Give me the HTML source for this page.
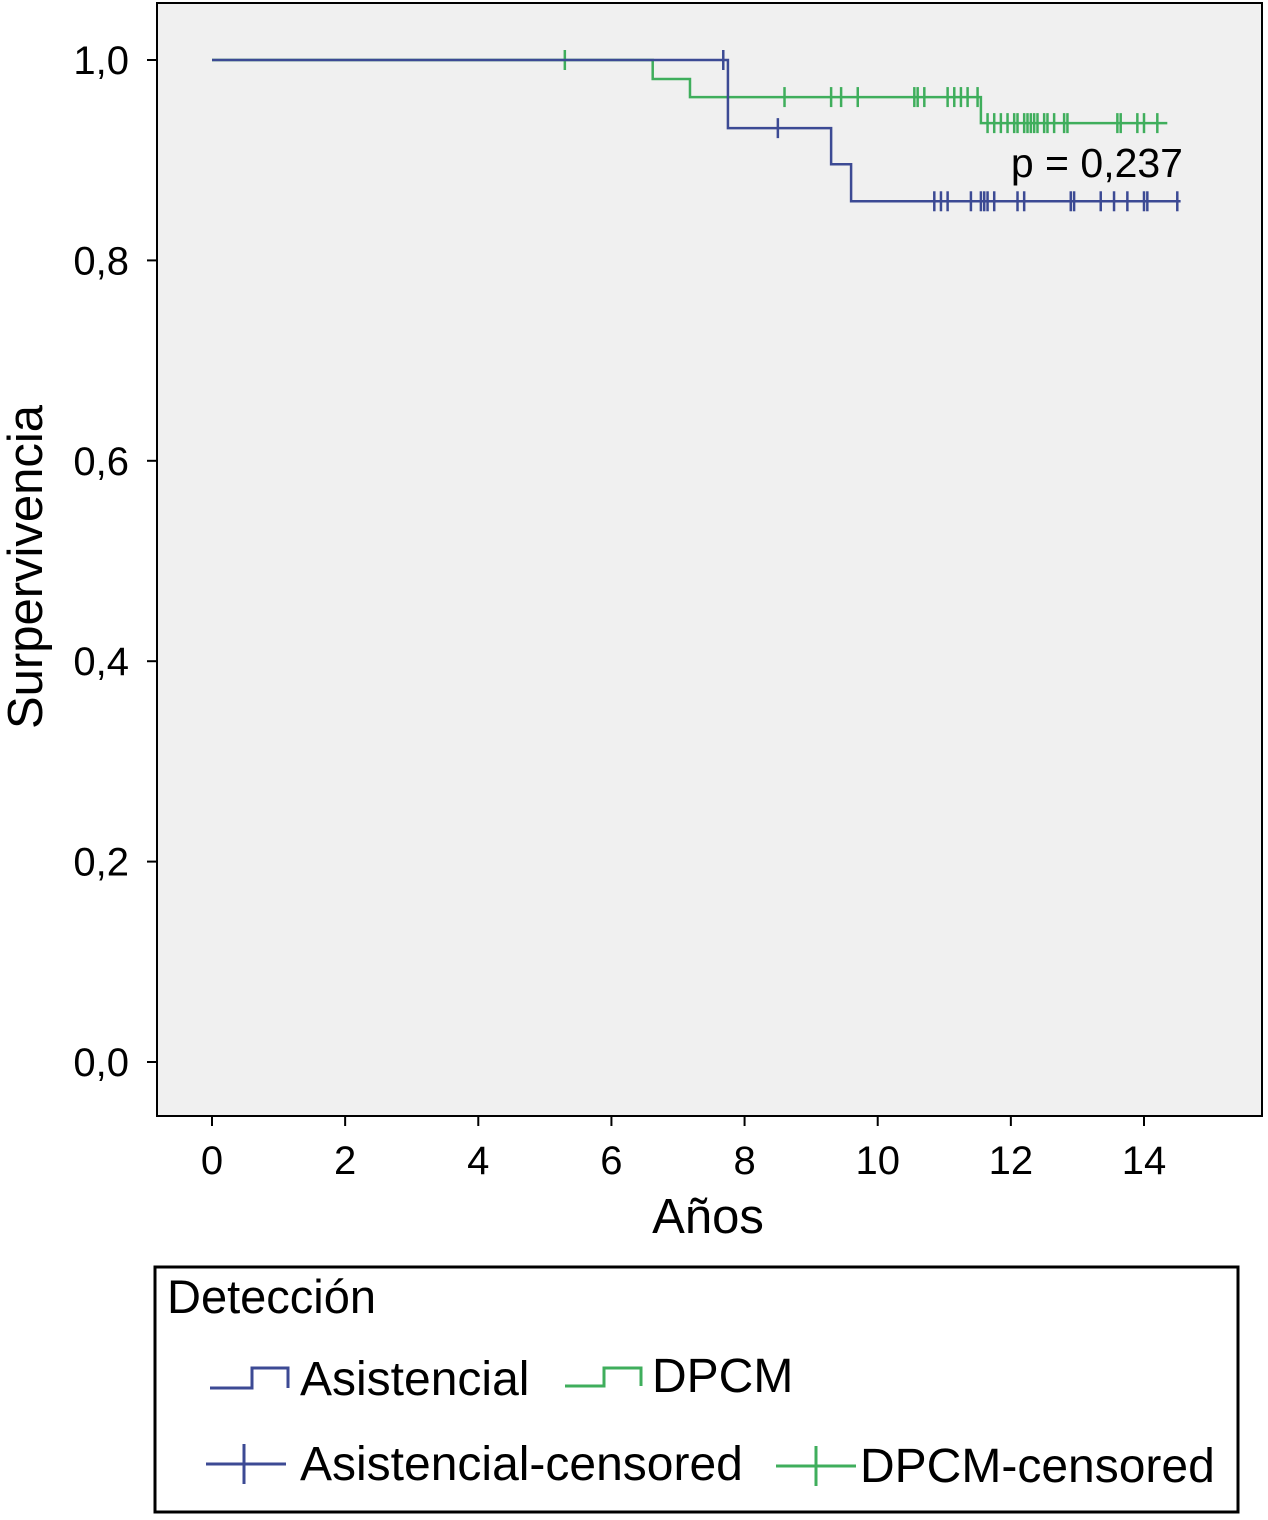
<!DOCTYPE html>
<html><head><meta charset="utf-8"><style>
body{margin:0;background:#fff;}
svg text{font-family:"Liberation Sans",Arial,sans-serif;fill:#000;}
</style></head><body>
<svg id="chart" width="1268" height="1515" xmlns="http://www.w3.org/2000/svg">
<rect x="157" y="3" width="1105" height="1113" fill="#f0f0f0" stroke="#000" stroke-width="2"/>
<g id="axes"></g>
<g id="series"></g>
<text x="1183" y="177" font-size="41" text-anchor="end">p = 0,237</text>
<text x="708" y="1233" font-size="49" text-anchor="middle">Años</text>
<text transform="translate(42,567) rotate(-90)" font-size="49" text-anchor="middle">Surpervivencia</text>
<g>
<rect x="155" y="1267" width="1083" height="245" fill="#fff" stroke="#000" stroke-width="3"/>
<text x="167" y="1313" font-size="47">Detección</text>
<path d="M210 1388 H252 V1368 H288 V1388" fill="none" stroke="#3c4a94" stroke-width="3"/>
<text x="300" y="1395" font-size="48">Asistencial</text>
<path d="M565 1386 H604 V1368 H641 V1386" fill="none" stroke="#3fae5c" stroke-width="3"/>
<text x="652" y="1392" font-size="48">DPCM</text>
<path d="M206 1464 H286 M244 1444 V1484" stroke="#3c4a94" stroke-width="3"/>
<text x="300" y="1480" font-size="48">Asistencial-censored</text>
<path d="M776 1466 H856 M816 1446 V1486" stroke="#3fae5c" stroke-width="3"/>
<text x="860" y="1482" font-size="48">DPCM-censored</text>
</g>
</svg>
<script>
const xTicks=[0,2,4,6,8,10,12,14];
const yTicks=[0,0.2,0.4,0.6,0.8,1.0];
const yTickLabels=["0,0","0,2","0,4","0,6","0,8","1,0"];
const blueTimes=[0,7.75,9.3,9.6,14.55];
const blueSurv=[1.0,0.932,0.896,0.859,0.859];
const greenTimes=[0,6.62,7.18,11.55,14.35];
const greenSurv=[1.0,0.981,0.963,0.937,0.937];
const blueCensor=[7.68,8.5,10.85,10.95,11.05,11.4,11.55,11.6,11.65,11.75,12.1,12.2,12.9,12.95,13.35,13.55,13.75,14.0,14.05,14.5];
const greenCensor=[5.3,8.6,9.3,9.45,9.7,10.55,10.6,10.7,11.05,11.15,11.25,11.35,11.5,11.65,11.75,11.85,11.95,12.05,12.1,12.2,12.25,12.3,12.35,12.4,12.5,12.55,12.65,12.8,12.85,13.6,13.65,13.9,14.0,14.2];
const X=t=>212+t*(1144-212)/14;
const Y=s=>1062-s*(1062-60);
const NS="http://www.w3.org/2000/svg";
const axes=document.getElementById('axes'),ser=document.getElementById('series');
function mk(tag,attrs,parent){const e=document.createElementNS(NS,tag);for(const k in attrs)e.setAttribute(k,attrs[k]);parent.appendChild(e);return e;}
xTicks.forEach(t=>{
  const l=mk('line',{x1:X(t),x2:X(t),y1:1116,y2:1126,stroke:'#000','stroke-width':2},axes);
  
  
  const tx=mk('text',{x:X(t),y:1174,'font-size':40,'text-anchor':'middle'},axes);tx.textContent=t;
  
  
});
yTicks.forEach((v,i)=>{
  const l=mk('line',{x1:147,x2:157,y1:Y(v),y2:Y(v),stroke:'#000','stroke-width':2},axes);
  
  
  const tx=mk('text',{x:129,y:Y(v)+14,'font-size':40,'text-anchor':'end'},axes);tx.textContent=yTickLabels[i];
  
  
});
function stepAt(times,surv,t){let s=surv[0];for(let i=0;i<times.length;i++){if(times[i]<=t)s=surv[i];}return s;}
function drawSeries(times,surv,cens,color,name){
  let d='M'+X(times[0])+' '+Y(surv[0]);
  for(let i=1;i<times.length;i++){d+=' H'+X(times[i])+' V'+Y(surv[i]);}
  const p=mk('path',{d:d,fill:'none',stroke:color,'stroke-width':2.5},ser);
  
  
  cens.forEach(t=>{const s=stepAt(times,surv,t);
    const c=mk('line',{x1:X(t),x2:X(t),y1:Y(s)-10,y2:Y(s)+10,stroke:color,'stroke-width':2.5},ser);
    
    
  });
}
drawSeries(greenTimes,greenSurv,greenCensor,'#3fae5c','dpcm');
drawSeries(blueTimes,blueSurv,blueCensor,'#3c4a94','asistencial');
</script>
</body></html>
